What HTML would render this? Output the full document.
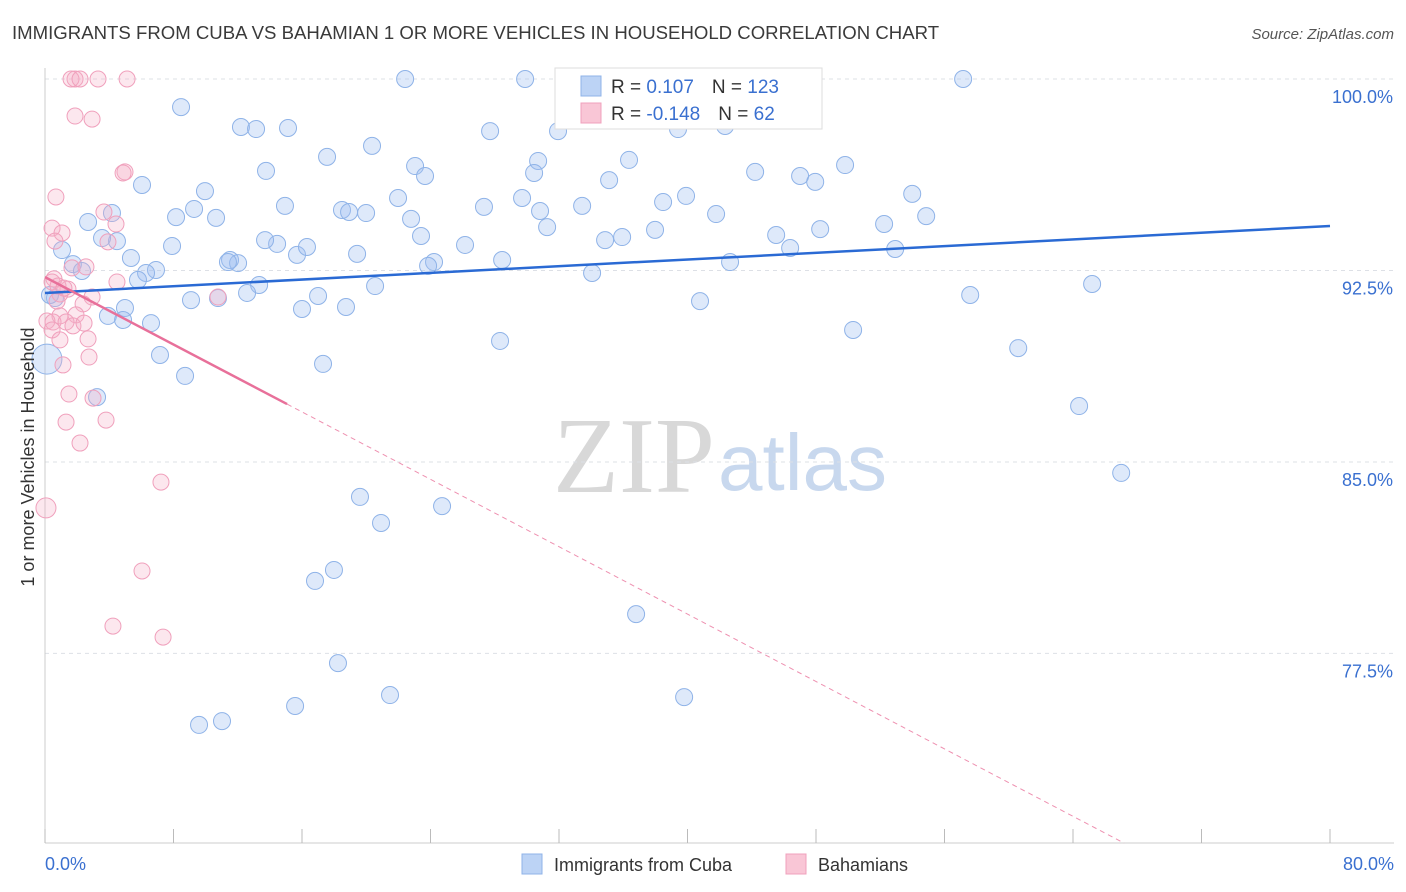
<!DOCTYPE html>
<html><head><meta charset="utf-8"><style>
body{margin:0;background:#fff;font-family:"Liberation Sans",sans-serif;}
#wrap{position:relative;width:1406px;height:892px;overflow:hidden;}
</style></head><body>
<div id="wrap">
<svg id="svg" width="1406" height="892" xmlns="http://www.w3.org/2000/svg">
<text x="12" y="39" font-size="18.6" fill="#3a3a3a">IMMIGRANTS FROM CUBA VS BAHAMIAN 1 OR MORE VEHICLES IN HOUSEHOLD CORRELATION CHART</text>
<text x="1394" y="39" font-size="15" fill="#555" font-style="italic" text-anchor="end">Source: ZipAtlas.com</text>
<text x="553" y="492" font-size="108" fill="#d8d8d8" font-family="Liberation Serif,serif">ZIP</text>
<text x="718" y="490" font-size="80" fill="#c8d8ee">atlas</text>
<g id="grid"></g><g id="axes"></g><g id="pts"></g><g id="trend"></g>
<text transform="translate(34,457) rotate(-90)" font-size="18" fill="#333" text-anchor="middle">1 or more Vehicles in Household</text>
<g>
<rect x="555" y="68" width="267" height="61" fill="#fff" stroke="#ddd"/>
<rect x="581" y="76" width="20" height="20" fill="#bcd3f5" stroke="#8fb3e8"/>
<rect x="581" y="103" width="20" height="20" fill="#f9c6d6" stroke="#f0a0bc"/>
<text x="611" y="93" font-size="19" fill="#333">R = <tspan fill="#3a70d0"> 0.107</tspan><tspan dx="18">N = </tspan><tspan fill="#3a70d0">123</tspan></text>
<text x="611" y="120" font-size="19" fill="#333">R = <tspan fill="#3a70d0">-0.148</tspan><tspan dx="18">N = </tspan><tspan fill="#3a70d0"> 62</tspan></text>
</g>
<g>
<rect x="522" y="854" width="20" height="20" fill="#bcd3f5" stroke="#8fb3e8"/>
<text x="554" y="871" font-size="18" fill="#333">Immigrants from Cuba</text>
<rect x="786" y="854" width="20" height="20" fill="#f9c6d6" stroke="#f0a0bc"/>
<text x="818" y="871" font-size="18" fill="#333">Bahamians</text>
</g>
</svg>
</div>
<script>
const blueX=[8.47,12.20,13.14,15.13,22.42,29.89,32.50,57.16,27.71,31.94,42.34,39.41,20.36,17.56,13.76,6.04,9.96,23.04,23.66,36.36,30.70,30.45,35.12,44.21,47.01,47.95,49.81,53.99,54.86,52.24,52.93,48.26,45.52,46.39,42.65,39.91,38.48,41.78,37.98,35.93,34.87,33.44,29.70,30.82,31.26,27.33,26.15,28.46,22.79,23.41,21.98,24.22,23.85,20.55,19.43,19.99,18.49,18.93,14.94,15.69,16.31,14.45,13.70,11.52,12.02,11.39,10.65,9.28,8.16,7.91,4.17,2.68,1.06,4.48,3.55,5.35,6.91,6.29,5.79,1.74,2.30,13.33,10.77,9.09,12.58,17.00,16.00,18.74,4.98,3.92,4.86,6.60,7.16,8.72,17.31,28.33,34.06,40.78,50.31,57.60,60.59,65.19,64.38,67.00,3.24,19.61,24.72,20.92,17.99,16.81,36.80,18.24,21.48,15.57,39.79,11.02,9.59,0.62,0.31,0.12];
const blueY=[98.90,98.12,98.04,98.08,100,100,100,100,97.96,97.96,98.16,98.04,97.38,96.95,96.40,95.85,95.61,96.59,96.20,96.83,96.79,96.32,96.04,96.36,96.20,95.97,96.63,95.50,94.63,94.32,93.34,94.12,93.89,93.38,92.83,95.42,95.18,94.71,94.09,93.81,93.69,95.03,95.34,94.83,94.20,94.99,93.50,92.91,94.52,93.85,95.34,92.83,92.68,91.89,93.15,94.75,94.87,94.79,95.03,93.11,93.42,93.54,93.69,92.91,92.79,92.83,94.56,94.91,94.59,93.46,94.75,94.40,93.30,93.65,93.77,92.99,92.52,92.40,92.13,92.75,92.48,91.93,91.42,91.34,91.62,91.50,90.99,91.07,91.03,90.72,90.56,90.44,89.19,88.37,88.84,89.74,92.40,91.30,90.17,91.54,89.46,91.97,87.19,84.57,87.54,83.63,83.27,82.61,80.77,80.34,79.04,77.12,75.87,75.44,75.79,74.85,74.70,91.42,91.54,89.03];
const pinkX=[1.87,1.62,2.18,5.11,3.30,1.87,2.93,4.98,4.86,0.68,3.67,4.42,0.44,1.06,0.62,3.92,1.68,2.55,0.56,1.43,0.44,0.93,2.93,0.75,10.77,2.37,0.93,1.93,0.12,0.50,1.31,1.74,2.43,0.44,2.68,0.93,2.74,1.12,1.49,2.99,1.31,3.80,2.18,7.22,6.04,4.23,7.35,4.48,0.06,0.81,1.18];
const pinkY=[100,100,100,100,100,98.55,98.43,96.36,96.32,95.38,94.79,94.32,94.16,93.97,93.65,93.62,92.60,92.64,92.17,91.77,92.05,91.58,91.46,91.30,91.46,91.19,90.72,90.76,90.52,90.48,90.48,90.33,90.44,90.17,89.82,89.78,89.11,88.80,87.66,87.50,86.56,86.64,85.74,84.21,80.73,78.57,78.14,92.05,83.20,91.89,91.81];
const yTicks=[100,92.5,85,77.5];
const yTickLabels=["100.0%","92.5%","85.0%","77.5%"];
const xEnds=["0.0%","80.0%"];
const blueTrend=[91.62,94.24];
const pinkTrend=[92.24,-0.33];

const NS="http://www.w3.org/2000/svg";
function xs(v){return 45+v*1285/80;}
function ys(v){return 79+(100-v)*25.53;}
function mk(t,a,p){const e=document.createElementNS(NS,t);for(const k in a)e.setAttribute(k,a[k]);document.getElementById(p).appendChild(e);return e;}
yTicks.forEach((t,i)=>{
 const g=mk('line',{x1:45,x2:1394,y1:ys(t),y2:ys(t),stroke:'#dde0e6','stroke-dasharray':'4,4'},'grid');
 
 
 const l=mk('text',{x:1393,y:ys(t)+24,'font-size':18,fill:'#3a70d0','text-anchor':'end'},'axes');
 l.textContent=yTickLabels[i];
 
 
});
const ax=mk('line',{x1:45,x2:1394,y1:843,y2:843,stroke:'#ccc'},'axes');


const ay=mk('line',{x1:45,x2:45,y1:68,y2:843,stroke:'#ccc'},'axes');


for(let i=0;i<=10;i++){
 const t=mk('line',{x1:xs(i*8),x2:xs(i*8),y1:829,y2:843,stroke:'#bbb'},'axes');
 
 
}
[[0,'start',45],[80,'end',1394]].forEach((d,i)=>{
 const l=mk('text',{x:d[2],y:870,'font-size':18,fill:'#3a70d0','text-anchor':d[1]},'axes');
 l.textContent=xEnds[i];
 
 
});
const bigBlue=blueX.length-1, bigPink=48;
blueX.forEach((x,i)=>{
 const c=mk('circle',{cx:xs(x),cy:ys(blueY[i]),r:i===bigBlue?15:8.5,fill:'rgba(160,192,240,0.35)',stroke:'#8fb3e8','stroke-width':1},'pts');
 
 
});
pinkX.forEach((x,i)=>{
 const c=mk('circle',{cx:xs(x),cy:ys(pinkY[i]),r:i===bigPink?10:8,fill:'rgba(246,175,200,0.3)',stroke:'#f0a0bc','stroke-width':1},'pts');
 
 
});
const bt=mk('line',{x1:xs(0),y1:ys(blueTrend[0]),x2:xs(80),y2:ys(blueTrend[1]),stroke:'#2a6ad4','stroke-width':2.5},'trend');


const pe=15.07, pend=(pinkTrend[0]-70.07)/(-pinkTrend[1]);
const ps=mk('line',{x1:xs(0),y1:ys(pinkTrend[0]),x2:xs(pe),y2:ys(pinkTrend[0]+pinkTrend[1]*pe),stroke:'#e8709a','stroke-width':2.5},'trend');


const pd=mk('line',{x1:xs(pe),y1:ys(pinkTrend[0]+pinkTrend[1]*pe),x2:xs(pend),y2:ys(pinkTrend[0]+pinkTrend[1]*pend),stroke:'#ee90b0','stroke-width':1,'stroke-dasharray':'5,4'},'trend');


</script>
</body></html>
